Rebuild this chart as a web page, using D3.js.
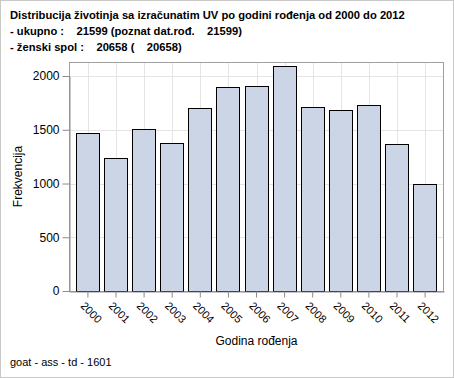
<!DOCTYPE html>
<head>
<meta charset="utf-8">
<style>
  body { margin: 0; background: #fff; }
  text { font-family: Arial, "Liberation Sans", sans-serif; }
</style>
</head>
<body>
  <svg width="454" height="378"></svg>

  <script src="https://d3js.org/d3.v7.min.js"></script>
  <script>
  // data
  const years = ['2000', '2001', '2002', '2003', '2004', '2005', '2006',
                 '2007', '2008', '2009', '2010', '2011', '2012'];
  const counts = [1467, 1234, 1504, 1374, 1700, 1895, 1904,
                  2093, 1709, 1681, 1730, 1365, 995];
  const yTicks = [0, 500, 1000, 1500, 2000];
  const titleLines = [
    'Distribucija životinja sa izračunatim UV po godini rođenja od 2000 do 2012',
    '- ukupno :    21599 (poznat dat.rođ.    21599)',
    '- ženski spol :    20658 (    20658)'
  ];
  const footer = 'goat - ass - td - 1601';

  const svg = d3.select('svg');
  const plotLeft = 69, plotRight = 444, plotTop = 62, plotBottom = 291;

  // outer frame
  svg.append('rect')
    .attr('x', 0.5).attr('y', 0.5)
    .attr('width', 453).attr('height', 377)
    .attr('fill', '#fff').attr('stroke', '#c8c8c8');

  const x = d3.scaleBand()
    .domain(years)
    .range([plotLeft, plotRight])
    .paddingInner(0.15)
    .paddingOuter(0.2475);

  const y = d3.scaleLinear()
    .domain([0, 2000])
    .range([plotBottom, 76]);

  // grid
  svg.append('g')
    .selectAll('line')
    .data(yTicks)
    .join('line')
    .attr('x1', plotLeft).attr('x2', plotRight)
    .attr('y1', d => Math.round(y(d)) + 0.5)
    .attr('y2', d => Math.round(y(d)) + 0.5)
    .attr('stroke', '#e4e4e4');
  svg.append('g')
    .selectAll('line')
    .data(years)
    .join('line')
    .attr('x1', d => Math.round(x(d) + x.bandwidth() / 2) + 0.5)
    .attr('x2', d => Math.round(x(d) + x.bandwidth() / 2) + 0.5)
    .attr('y1', plotTop).attr('y2', plotBottom)
    .attr('stroke', '#e4e4e4');

  // plot frame
  svg.append('rect')
    .attr('x', plotLeft + 0.5).attr('y', plotTop + 0.5)
    .attr('width', plotRight - plotLeft - 1).attr('height', plotBottom - plotTop)
    .attr('fill', 'none').attr('stroke', '#a0a0a0');

  // bars
  svg.append('g')
    .selectAll('rect')
    .data(counts)
    .join('rect')
    .attr('x', (d, i) => Math.round(x(years[i])) + 0.5)
    .attr('y', d => Math.round(y(d)) + 0.5)
    .attr('width', Math.round(x.bandwidth()) - 1)
    .attr('height', d => Math.round(y(0)) - Math.round(y(d)))
    .attr('fill', '#cbd5e5')
    .attr('stroke', '#000')
    .attr('stroke-width', 1);

  // y axis
  const yAxis = svg.append('g')
    .attr('transform', `translate(${plotLeft + 0.5},0)`)
    .call(d3.axisLeft(y).tickValues(yTicks).tickFormat(d3.format('d'))
      .tickSize(7).tickPadding(3).tickSizeOuter(0));
  yAxis.select('.domain').attr('stroke', '#8c8c8c');
  yAxis.selectAll('line').attr('stroke', '#8c8c8c');
  yAxis.selectAll('text')
    .attr('font-size', 12).attr('fill', '#000')
    .attr('font-family', 'Arial, "Liberation Sans", sans-serif');

  // x axis
  const xAxis = svg.append('g')
    .attr('transform', `translate(0,${plotBottom + 0.5})`)
    .call(d3.axisBottom(x).tickSize(6).tickSizeOuter(0));
  xAxis.select('.domain').attr('stroke', '#8c8c8c');
  xAxis.selectAll('line').attr('stroke', '#8c8c8c');
  xAxis.selectAll('text')
    .attr('font-size', 11).attr('fill', '#000')
    .attr('font-family', 'Arial, "Liberation Sans", sans-serif')
    .attr('text-anchor', 'start')
    .attr('dy', null)
    .attr('y', 0)
    .attr('transform', 'translate(-8,15) rotate(45)');

  // axis titles
  svg.append('text')
    .attr('x', (plotLeft + plotRight) / 2).attr('y', 345)
    .attr('text-anchor', 'middle')
    .attr('font-size', 12)
    .text('Godina rođenja');
  svg.append('text')
    .attr('transform', `translate(22,${(plotTop + plotBottom) / 2}) rotate(-90)`)
    .attr('text-anchor', 'middle')
    .attr('font-size', 12)
    .text('Frekvencija');

  // titles
  svg.append('g')
    .selectAll('text')
    .data(titleLines)
    .join('text')
    .attr('x', 10)
    .attr('y', (d, i) => 19 + i * 16)
    .attr('font-size', 11.2)
    .attr('font-weight', 'bold')
    .attr('xml:space', 'preserve')
    .style('white-space', 'pre')
    .text(d => d);

  svg.append('text')
    .attr('x', 10).attr('y', 366)
    .attr('font-size', 11)
    .text(footer);
  </script>
</body>
</html>
